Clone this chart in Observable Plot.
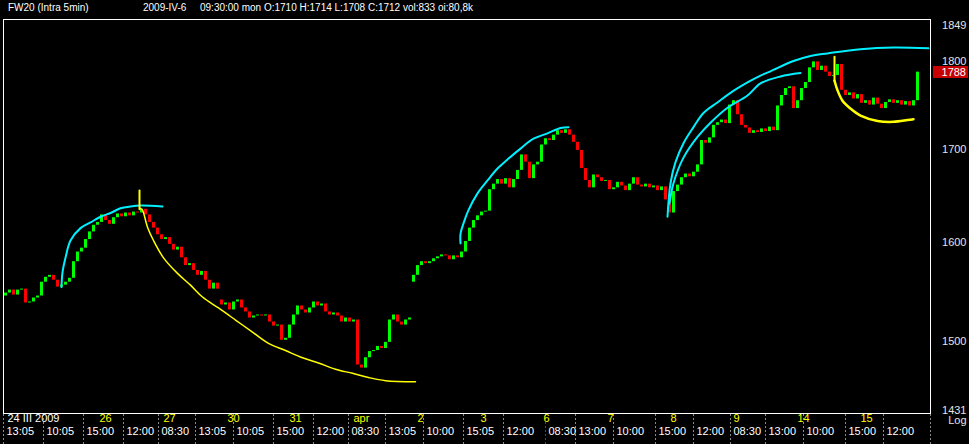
<!DOCTYPE html>
<html><head><meta charset="utf-8">
<script src="https://cdn.jsdelivr.net/npm/d3@7"></script>
<script src="https://cdn.jsdelivr.net/npm/@observablehq/plot@0.6"></script>
<style>
html,body{margin:0;padding:0;background:#000;overflow:hidden;}
#title{position:relative;height:18px;width:969px;font:10px/10px "Liberation Sans",Arial,sans-serif;color:#fff;}
#title span{position:absolute;top:3px;white-space:pre;}
#chart svg{display:block;}
</style></head><body>
<div id="title"><span style="left:8px">FW20 (Intra 5min)</span><span style="left:143px">2009-IV-6</span><span style="left:200px">09:30:00 mon O:1710 H:1714 L:1708 C:1712 vol:833 oi:80,8k</span></div>
<div id="chart"></div>
<script>
// closing prices, one per bar (bar index 0..228)
const closes = [
 1548,1551,1546,1551,1552,1538,1539,1543,1545,1559,
 1564,1566,1561,1554,1556,1559,1563,1580,1590,1594,
 1603,1611,1618,1621,1629,1623,1619,1626,1630,1627,
 1631,1628,1632,1631,1635,1629,1621,1615,1608,1603,
 1605,1598,1592,1595,1584,1576,1578,1571,1566,1570,
 1561,1552,1558,1552,1536,1538,1531,1539,1541,1533,
 1529,1523,1525,1526,1525,1526,1519,1515,1516,1501,
 1503,1516,1526,1535,1531,1528,1533,1539,1535,1537,
 1529,1526,1528,1525,1519,1523,1519,1521,1477,1474,
 1484,1490,1491,1495,1493,1499,1521,1526,1519,1516,
 1521,1523,1566,1576,1580,1578,1580,1583,1585,1587,
 1586,1582,1586,1584,1590,1601,1615,1623,1628,1632,
 1633,1656,1662,1667,1662,1668,1658,1667,1677,1694,
 1686,1668,1683,1686,1705,1712,1710,1716,1721,1718,
 1722,1716,1708,1699,1679,1666,1658,1672,1669,1665,
 1666,1656,1658,1664,1660,1655,1662,1669,1661,1659,
 1662,1658,1660,1655,1659,1645,1631,1654,1661,1669,
 1673,1670,1675,1683,1710,1707,1713,1727,1730,1733,
 1729,1750,1755,1739,1727,1724,1718,1721,1719,1723,
 1720,1725,1721,1749,1761,1769,1771,1746,1755,1769,
 1776,1793,1800,1790,1795,1788,1783,1784,1797,1767,
 1761,1764,1757,1762,1752,1755,1750,1758,1751,1746,
 1753,1756,1752,1755,1750,1754,1749,1755,1788
];
// session opening prices (bar index, open) where a session starts with a gap
const sessionOpens = [[0, 1545], [54, 1541], [102, 1559]];

// y axis
const yDomain = [1431, 1850.5];
const yTicksMid = [1800, 1700, 1600, 1500];
const yTickTop = 1849;
const yTickBottom = 1431;

// x axis: separators (bar index), time labels, day labels
const separators = [-0.5, 9.5, 19.5, 29.5, 38.25, 47.5, 57, 67, 77, 85.75, 95, 104.5, 114.5, 124.5, 135, 142.5, 152, 162.5, 172, 181.25, 190, 199.5, 210, 219.5, 231.25];
const timeLabels = ["13:05","10:05","15:00","12:00","08:30","13:05","10:05","15:00","12:00","08:30","13:05","10:00","15:05","12:00","08:30","13:00","10:00","15:00","12:00","08:30","13:00","10:00","15:00","12:00"];
const cursorSep = 135;
const dayPos = [0, 23, 39, 55, 70.5, 86.5, 102.5, 118.25, 134, 150, 165.75, 181.5, 197.5, 213.25];
const dayText = ["24 III 2009","26","27","30","31","apr","2","3","6","7","8","9","14","15"];

// drawn overlay arcs: [bar index, price]
const cyanArc1 = [[14,1554],[14.25,1569],[15,1584],[16.25,1602],[18.75,1615],[21.25,1621],[23.75,1627],[26.25,1631],[28.75,1636],[31.25,1638],[33.75,1639],[39.25,1638]];
const yellowTick1 = [[33.5,1655],[33.5,1635]];
const yellowArc1 = [[33.75,1636],[34.25,1634],[35.5,1616],[37,1602],[39.5,1584],[43,1568],[46.25,1556],[49.25,1544],[53.25,1533],[57.5,1521],[61.75,1509],[65.75,1498],[70,1491],[74.25,1484],[78.25,1479],[82.5,1473],[86.75,1469],[90.75,1465],[95,1462],[102.5,1461]];
const cyanArc2 = [[113.75,1599],[113.75,1609],[114.5,1620],[115.75,1634],[118,1652],[120.5,1666],[123,1679],[125.5,1689],[128.75,1701],[132,1712],[135.5,1718],[138.75,1724],[140.75,1725]];
const cyanArc3 = [[165.5,1627],[166.25,1663],[167.5,1686],[169.5,1707],[172,1725],[174.5,1741],[178,1753],[181.25,1764],[185.5,1776],[188.75,1784],[191.25,1789],[197,1801],[201.25,1807],[205.5,1810],[213.75,1815],[222,1817],[230.75,1816]];
const cyanArc4 = [[166,1641],[167,1663],[169.5,1691],[173,1714],[176.25,1730],[180.5,1747],[185.5,1761],[188.75,1775],[193.75,1783],[198.75,1787]];
const yellowTick2 = [[207.25,1806],[207.25,1778]];
const yellowArc2 = [[207.25,1778],[208,1767],[209.25,1755],[211.25,1746],[213.75,1738],[218,1732],[222,1731],[225.5,1733],[227,1734]];

const openMap = new Map(sessionOpens);
const bars = closes.map((c, i) => ({i, open: openMap.has(i) ? openMap.get(i) : closes[i - 1], close: c}));
const lastClose = closes[closes.length - 1];

const FONT = '"Liberation Sans", Arial, sans-serif';
const GREEN = "#00ff00", RED = "#ff0000", CYAN = "#00f0ff", YELLOW = "#ffff00";

function axisBand(index, scales, values, dims) {
  const g = d3.create("svg:g");
  const y0 = dims.height - dims.marginBottom + 1, y1 = dims.height;
  for (const s of separators) {
    const x = Math.round(scales.x(s)) + 0.5;
    g.append("line").attr("x1", x).attr("x2", x).attr("y1", y0).attr("y2", y1)
      .attr("stroke", s === cursorSep ? "#ff0000" : "#8a8a8a")
      .attr("stroke-dasharray", "2,2");
  }
  return g.node();
}
function lastPriceBox(index, scales, values, dims) {
  const g = d3.create("svg:g");
  const y = scales.y(lastClose);
  const xr = dims.width - dims.marginRight;
  g.append("rect").attr("x", xr + 3).attr("y", Math.round(y) - 6).attr("width", 35).attr("height", 12).attr("fill", "#c80000");
  g.append("text").attr("x", xr + 36).attr("y", y).attr("dy", "0.36em").attr("text-anchor", "end")
    .attr("fill", "#fff").attr("font-size", 11).attr("font-family", FONT).text(lastClose);
  return g.node();
}

const line = (data, stroke, w) => Plot.line(data, {x: d => d[0], y: d => d[1], stroke, strokeWidth: w, curve: "catmull-rom"});

const chart = Plot.plot({
  width: 969,
  height: 426,
  marginTop: 1,
  marginBottom: 31,
  marginLeft: 3,
  marginRight: 39,
  style: {background: "#000", color: "#fff", fontFamily: FONT, fontSize: "11px"},
  x: {type: "linear", domain: [-0.5, 231.25], axis: null},
  y: {type: "log", domain: yDomain, axis: null},
  marks: [
    Plot.ruleX(bars, {x: "i", y1: "open", y2: "close", stroke: d => d.close >= d.open ? GREEN : RED, strokeWidth: 3}),
    line(cyanArc1, CYAN, 2),
    line(cyanArc2, CYAN, 2),
    line(cyanArc3, CYAN, 2),
    line(cyanArc4, CYAN, 2),
    line(yellowTick1, YELLOW, 2),
    line(yellowArc1, YELLOW, 1.5),
    line(yellowTick2, YELLOW, 2),
    line(yellowArc2, YELLOW, 2.5),
    Plot.frame({stroke: "#fff"}),
    Plot.text(yTicksMid, {y: d => d, text: d => String(d), frameAnchor: "right", dx: 36, textAnchor: "end", fill: "#e4e4e4", fontSize: 11}),
    Plot.text([yTickTop], {y: d => d, text: d => String(d), frameAnchor: "right", dx: 36, textAnchor: "end", lineAnchor: "top", fill: "#e4e4e4", fontSize: 11}),
    Plot.text([yTickBottom], {y: d => d, text: d => String(d), frameAnchor: "right", dx: 36, textAnchor: "end", lineAnchor: "bottom", fill: "#e4e4e4", fontSize: 11}),
    Plot.text(["Log"], {text: d => d, frameAnchor: "bottom-right", dx: 36, dy: 3, textAnchor: "end", lineAnchor: "top", fill: "#e4e4e4", fontSize: 11}),
    lastPriceBox,
    axisBand,
    Plot.text(timeLabels, {x: (d, k) => separators[k], text: d => d, frameAnchor: "bottom", dx: 3, dy: 21, textAnchor: "start", fill: "#fff", fontSize: 11}),
    Plot.text(dayText, {x: (d, k) => dayPos[k], text: d => d, frameAnchor: "bottom", dx: 2, dy: 8, textAnchor: "start", fill: (d, k) => k === 0 ? "#fff" : YELLOW, fontSize: 11})
  ]
});
document.getElementById("chart").appendChild(chart);
</script>
</body></html>
